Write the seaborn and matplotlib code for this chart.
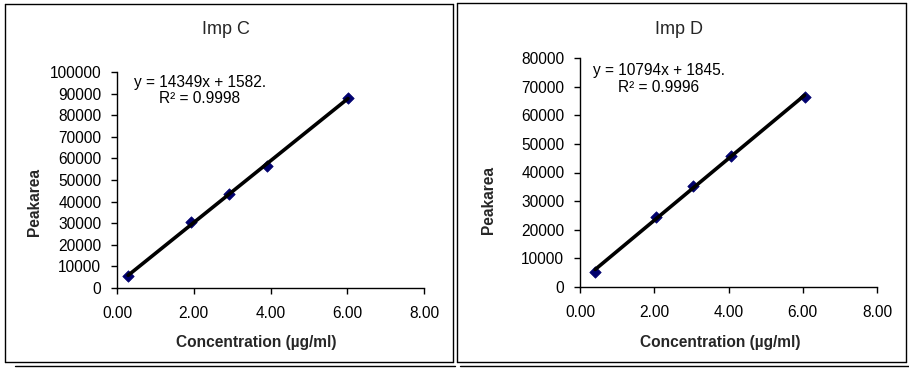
import matplotlib
matplotlib.use("Agg")
import matplotlib.pyplot as plt
import seaborn as sns
import numpy as np
from matplotlib.lines import Line2D
from matplotlib.ticker import FixedLocator, FormatStrFormatter

sns.set_style("white")
plt.rcParams['font.family'] = ['Liberation Sans', 'DejaVu Sans']

# Data
conc_c = [0.29, 1.94, 2.92, 3.90, 6.02]
area_c = [5400, 30500, 43400, 56700, 87900]
conc_d = [0.41, 2.04, 3.05, 4.08, 6.05]
area_d = [5100, 24600, 35400, 45700, 66400]

titles = ["Imp C", "Imp D"]
equations = ["y = 14349x + 1582.\nR² = 0.9998", "y = 10794x + 1845.\nR² = 0.9996"]
x_ticks = [0, 2, 4, 6, 8]
y_ticks_c = list(range(0, 100001, 10000))
y_ticks_d = list(range(0, 80001, 10000))
xlabel = "Concentration (µg/ml)"
ylabel = "Peakarea"

W, H = 909, 369
fig = plt.figure(figsize=(W / 100, H / 100), dpi=100)
fig.patch.set_facecolor("white")

FS = 11.2

def fx(px):
    return px / W

def fy(py):
    return 1 - py / H

# frames around the two charts
def box(x0, y0, x1, y1):
    for xs, ys in [((x0, x1), (y0, y0)), ((x0, x1), (y1, y1)),
                   ((x0, x0), (y0, y1)), ((x1, x1), (y0, y1))]:
        fig.add_artist(Line2D([fx(v) for v in xs], [fy(v) for v in ys],
                              color="black", lw=1.0))

box(5, 4, 453, 362)
box(457, 3, 906, 362)
fig.add_artist(Line2D([fx(15), fx(455)], [fy(366), fy(366)], color="black", lw=1.0))
fig.add_artist(Line2D([fx(460), fx(909)], [fy(366), fy(366)], color="black", lw=1.0))

panels = [
    dict(rect=(117, 72, 424, 288), x=conc_c, y=area_c, yt=y_ticks_c,
         title=titles[0], eq=equations[0], title_xy=(226, 30), eq_xy=(200, 90.5),
         ylab_xy=(35, 202), xlab_xy=(256, 343)),
    dict(rect=(580, 58, 877, 287), x=conc_d, y=area_d, yt=y_ticks_d,
         title=titles[1], eq=equations[1], title_xy=(679, 29), eq_xy=(659, 79),
         ylab_xy=(488, 200), xlab_xy=(720, 342)),
]

for p in panels:
    x0, y0, x1, y1 = p["rect"]
    ax = fig.add_axes([fx(x0), fy(y1), (x1 - x0) / W, (y1 - y0) / H])
    ax.set_facecolor("white")
    sns.regplot(x=np.array(p["x"]), y=np.array(p["y"]), ax=ax, ci=None,
                marker="D", truncate=True,
                scatter_kws=dict(s=34, color="#00006e", edgecolors="#00006e",
                                 linewidths=0.5, alpha=1, zorder=2),
                line_kws=dict(color="black", lw=2.6, zorder=3))
    ax.set_xlim(0, 8)
    ax.set_ylim(0, p["yt"][-1])
    ax.xaxis.set_major_locator(FixedLocator(x_ticks))
    ax.xaxis.set_major_formatter(FormatStrFormatter("%.2f"))
    ax.yaxis.set_major_locator(FixedLocator(p["yt"]))
    ax.yaxis.set_major_formatter(FormatStrFormatter("%d"))
    for s in ["top", "right"]:
        ax.spines[s].set_visible(False)
    for s in ["left", "bottom"]:
        ax.spines[s].set_color("black")
        ax.spines[s].set_linewidth(1.0)
    ax.tick_params(axis="both", which="major", direction="out", length=4.3,
                   width=1.0, color="black", labelsize=FS, labelcolor="black",
                   left=True, bottom=True)
    ax.tick_params(axis="x", pad=9)
    ax.tick_params(axis="y", pad=7)
    ax.set_xlabel("")
    ax.set_ylabel("")
    ax.grid(False)

    ex, ey = p["eq_xy"]
    ax.text((ex - x0) / (x1 - x0), (y1 - ey) / (y1 - y0), p["eq"],
            transform=ax.transAxes, ha="center", va="center",
            multialignment="center", fontsize=FS, color="black",
            linespacing=1.1)

    tx, ty = p["title_xy"]
    fig.text(fx(tx), fy(ty), p["title"], ha="center", va="center", fontsize=13)
    lx, ly = p["ylab_xy"]
    fig.text(fx(lx), fy(ly), ylabel, ha="center", va="center", rotation=90,
             fontsize=FS, fontweight="bold")
    cx, cy = p["xlab_xy"]
    fig.text(fx(cx), fy(cy), xlabel, ha="center", va="center",
             fontsize=FS, fontweight="bold")

fig.savefig("out.png", dpi=100, facecolor="white")
